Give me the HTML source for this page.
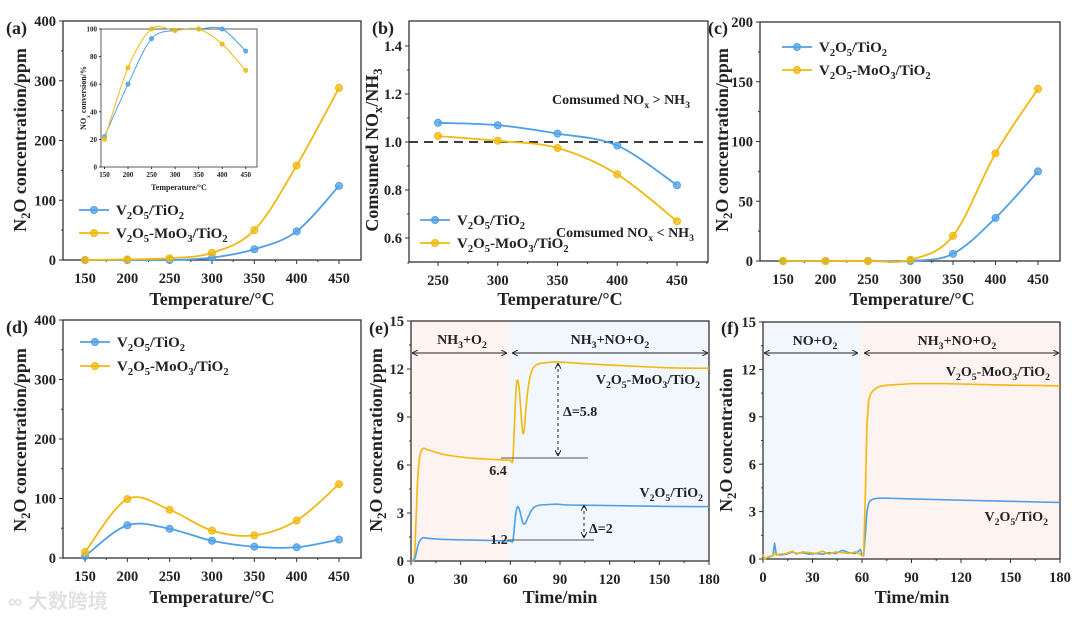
<!DOCTYPE html>
<html><head><meta charset="utf-8">
<style>
html,body{margin:0;padding:0;background:#fff;}
svg{display:block;font-family:"Liberation Serif",serif;font-weight:bold;}
</style></head>
<body>
<svg id="fig" width="1080" height="618" viewBox="0 0 1080 618" xmlns="http://www.w3.org/2000/svg">
<defs>
<marker id="arrL" viewBox="0 0 8 8" refX="0" refY="4" markerWidth="6" markerHeight="6" orient="auto"><path d="M8,0 L0,4 L8,8" fill="none" stroke="#222" stroke-width="1.3"/></marker>
<marker id="arrR" viewBox="0 0 8 8" refX="8" refY="4" markerWidth="6" markerHeight="6" orient="auto"><path d="M0,0 L8,4 L0,8" fill="none" stroke="#222" stroke-width="1.3"/></marker>
</defs>
</svg>
<script>
// ---------- data ----------
const tempsA = [150,200,250,300,350,400,450];
const aV = [0,0,0,4,18,48,124];
const aMo = [0,1,3,12,50,158,288];
const insetV = [22,60,93,99,100,100,84];
const insetMo = [20,72,100,99,100,89,70];
const tempsB = [250,300,350,400,450];
const bV = [1.08,1.07,1.035,0.985,0.82];
const bMo = [1.025,1.005,0.975,0.865,0.67];
const cV = [0,0,0,0,6,36,75];
const cMo = [0,0,0,1,21,90,144];
const dV = [3,55,49,29,19,18,31];
const dMo = [10,99,81,46,38,63,124];
const eTime = [0,2,3,4,5,6,7,8,10,15,20,30,40,50,58,60,61.5,62.5,63.5,64.5,65.5,66.5,67.5,68.5,69.5,71,73,75,78,82,88,95,110,130,150,170,180];
const eMo = [0,0.2,2.5,5,6.3,6.85,7.0,7.05,6.95,6.8,6.65,6.5,6.4,6.35,6.3,6.3,6.3,8.5,10.8,11.3,10.6,9.2,8.0,8.3,9.6,11.0,11.9,12.2,12.35,12.4,12.45,12.4,12.3,12.2,12.1,12.05,12.05];
const eV = [0,0.1,0.4,0.9,1.2,1.35,1.45,1.45,1.42,1.38,1.35,1.32,1.3,1.28,1.25,1.25,1.25,2.2,3.1,3.4,3.2,2.8,2.4,2.3,2.45,2.8,3.2,3.4,3.5,3.52,3.55,3.5,3.48,3.45,3.42,3.4,3.4];
const fTime = [0,1,3,6,7,8,10,14,18,20,24,28,32,36,40,44,48,52,56,59,60,61,62,63,64,65,67,70,75,90,110,130,150,170,180];
const fMo = [0.3,0,0.15,0.2,0.4,0.25,0.3,0.35,0.5,0.3,0.45,0.4,0.35,0.5,0.3,0.45,0.4,0.35,0.45,0.3,0.2,0.3,4,8.5,10,10.4,10.7,10.9,11.0,11.1,11.1,11.05,11.0,10.98,10.95];
const fV = [0,0,0.1,0.2,1.0,0.3,0.25,0.3,0.45,0.35,0.4,0.3,0.35,0.3,0.4,0.35,0.55,0.4,0.35,0.6,0.3,0.2,1.5,3.0,3.5,3.7,3.8,3.85,3.85,3.8,3.75,3.7,3.65,3.6,3.58];

const NS = "http://www.w3.org/2000/svg";
const svg = document.getElementById('fig');
const BLUE = "#4d9fe8", YEL = "#f2b80d";
function el(tag, attrs, parent){ const e=document.createElementNS(NS,tag); for(const k in attrs) e.setAttribute(k,attrs[k]); (parent||svg).appendChild(e); return e; }
function lin(d0,p0,d1,p1){ return v => p0 + (v-d0)*(p1-p0)/(d1-d0); }
function spline(pts){
  let d = "M"+pts[0][0]+","+pts[0][1];
  for(let i=0;i<pts.length-1;i++){
    const p0=pts[Math.max(0,i-1)], p1=pts[i], p2=pts[i+1], p3=pts[Math.min(pts.length-1,i+2)];
    const c1x=p1[0]+(p2[0]-p0[0])/6, c1y=p1[1]+(p2[1]-p0[1])/6;
    const c2x=p2[0]-(p3[0]-p1[0])/6, c2y=p2[1]-(p3[1]-p1[1])/6;
    d += " C"+c1x+","+c1y+" "+c2x+","+c2y+" "+p2[0]+","+p2[1];
  }
  return d;
}
function text(str, x, y, size, anchor, parent, name){
  const t = el('text',{x:x,y:y,'font-size':size,'text-anchor':anchor||'start',fill:'#222'},parent);
  t.innerHTML = str;
  
  
  return t;
}
function frame(p){
  const g = el('g',{});
  
  
  p.g = g;
  if(p.bg){ p.bg.forEach(b=>{ const r=el('rect',{x:b[0],y:p.y0,width:b[1]-b[0],height:p.y1-p.y0,fill:b[2]},g);
    
     }); }
  const fr = el('rect',{x:p.x0,y:p.y0,width:p.x1-p.x0,height:p.y1-p.y0,fill:'none',stroke:'#333','stroke-width':p.sw||1.3},g);
  
  
  const fs = p.tfs||14.5;
  p.xt.forEach((v,i)=>{ const x=p.sx(v);
    el('line',{x1:x,y1:p.y1,x2:x,y2:p.y1+(p.tl||4),stroke:'#333','stroke-width':1},g);
    text(String(v), x, p.y1+(p.xlo||23), fs, 'middle', g, 'x-tick-label');
    if(i<p.xt.length-1 && p.minor){ const xm=p.sx((v+p.xt[i+1])/2); el('line',{x1:xm,y1:p.y1,x2:xm,y2:p.y1+2,stroke:'#333','stroke-width':1},g); }
  });
  if(p.xminorEdge){ p.xminorEdge.forEach(v=>{ const xm=p.sx(v); el('line',{x1:xm,y1:p.y1,x2:xm,y2:p.y1+2,stroke:'#333','stroke-width':1},g); }); }
  p.yt.forEach((v,i)=>{ const y=p.sy(v);
    el('line',{x1:p.x0-(p.tl||4),y1:y,x2:p.x0,y2:y,stroke:'#333','stroke-width':1},g);
    text(p.yfmt?p.yfmt(v):String(v), p.x0-(p.ylo||7), y+fs*0.35, fs, 'end', g, 'y-tick-label');
    if(i<p.yt.length-1 && p.minor){ const ym=p.sy((v+p.yt[i+1])/2); el('line',{x1:p.x0-2,y1:ym,x2:p.x0,y2:ym,stroke:'#333','stroke-width':1},g); }
  });
  return g;
}
function series(p, xs, ys, color, name, markers, smooth){
  const pts = xs.map((x,i)=>[p.sx(x), p.sy(ys[i])]);
  const path = el('path',{d: smooth? spline(pts) : "M"+pts.map(q=>q.join(",")).join(" L"), fill:'none', stroke:color, 'stroke-width':p.lw||1.8, 'stroke-linejoin':'round'}, p.g);
  
  
  if(markers){ pts.forEach(q=>{ const c=el('circle',{cx:q[0],cy:q[1],r:p.mr||3.5,fill:color,'fill-opacity':0.75,stroke:color,'stroke-width':1},p.g);
    
     }); }
}
function legend(p, x, y1, y2, fs){
  [[y1,BLUE,'V<tspan font-size="'+(fs*0.7)+'" dy="4">2</tspan><tspan dy="-4">O</tspan><tspan font-size="'+(fs*0.7)+'" dy="4">5</tspan><tspan dy="-4">/TiO</tspan><tspan font-size="'+(fs*0.7)+'" dy="4">2</tspan>','legend-v2o5-tio2'],
   [y2,YEL,'V<tspan font-size="'+(fs*0.7)+'" dy="4">2</tspan><tspan dy="-4">O</tspan><tspan font-size="'+(fs*0.7)+'" dy="4">5</tspan><tspan dy="-4">-MoO</tspan><tspan font-size="'+(fs*0.7)+'" dy="4">3</tspan><tspan dy="-4">/TiO</tspan><tspan font-size="'+(fs*0.7)+'" dy="4">2</tspan>','legend-v2o5-moo3-tio2']].forEach(r=>{
    const g = el('g',{},p.g);
    
    
    el('line',{x1:x,y1:r[0],x2:x+30,y2:r[0],stroke:r[1],'stroke-width':1.8},g);
    el('circle',{cx:x+15,cy:r[0],r:3.5,fill:r[1],'fill-opacity':0.75,stroke:r[1]},g);
    text(r[2], x+37, r[0]+5, fs, 'start', g, 'legend-text');
  });
}
const SUB = (s)=>'<tspan font-size="70%" dy="4">'+s+'</tspan><tspan dy="-4">\u200b</tspan>';
function ytitle(str,x,y,fs,name){ const t=text(str,0,0,fs||18,'middle',svg,name||'y-axis-title'); t.setAttribute('transform','translate('+x+','+y+') rotate(-90)'); return t; }
const N2O = 'N'+SUB('2')+'O concentration/ppm';
const TEMP = 'Temperature/\u00b0C';

// ---------- panel a ----------
const pa = {name:'panel-a',x0:63,x1:361,y0:21,y1:260,sx:lin(150,85,450,339),sy:lin(0,260,400,21),xt:tempsA,yt:[0,100,200,300,400],minor:true};
frame(pa); series(pa,tempsA,aV,BLUE,'a-v2o5',true,true); series(pa,tempsA,aMo,YEL,'a-moo3',true,true);
legend(pa,79,210,233,15);
text('(a)',6,34,18,'start',svg,'panel-label-a');
ytitle(N2O,26,140); text(TEMP,212,305,18,'middle',svg,'x-axis-title-a');
const pi = {name:'panel-a-inset',x0:101,x1:257,y0:29,y1:167,sx:lin(150,104.5,450,245.7),sy:lin(0,167,100,29),xt:tempsA,yt:[0,20,40,60,80,100],tfs:7,xlo:10,ylo:4,tl:2,lw:1,mr:2,sw:0.8};
frame(pi); series(pi,tempsA,insetV,BLUE,'inset-v2o5',true,true); series(pi,tempsA,insetMo,YEL,'inset-moo3',true,true);
text(TEMP,179,190,8,'middle',svg,'inset-x-title');
ytitle('NO'+SUB('x')+' conversion/%',86,98,8,'inset-y-title');

// ---------- panel b ----------
const pb = {name:'panel-b',x0:409,x1:708,y0:21,y1:262,sx:lin(250,438,450,677),sy:lin(0.6,238,1.4,46),xt:tempsB,yt:[0.6,0.8,1.0,1.2,1.4],minor:true,yfmt:v=>v.toFixed(1),xminorEdge:[225,475]};
frame(pb);
const dl=el('line',{x1:409,y1:pb.sy(1.0),x2:708,y2:pb.sy(1.0),stroke:'#222','stroke-width':1.8,'stroke-dasharray':'9,6'},pb.g);


series(pb,tempsB,bV,BLUE,'b-v2o5',true,true); series(pb,tempsB,bMo,YEL,'b-moo3',true,true);
legend(pb,420,220,243,15);
text('Comsumed NO'+SUB('x')+' &gt; NH'+SUB('3'),621,104,14,'middle',svg,'annotation-greater');
text('Comsumed NO'+SUB('x')+' &lt; NH'+SUB('3'),625,237,14,'middle',svg,'annotation-less');
text('(b)',372,34,18,'start',svg,'panel-label-b');
ytitle('Comsumed NO'+SUB('x')+'/NH'+SUB('3'),378,150); text(TEMP,560,305,18,'middle',svg,'x-axis-title-b');

// ---------- panel c ----------
const pc = {name:'panel-c',x0:760,x1:1060,y0:22,y1:261,sx:lin(150,783,450,1038),sy:lin(0,261,200,22),xt:tempsA,yt:[0,50,100,150,200],minor:true};
frame(pc); series(pc,tempsA,cV,BLUE,'c-v2o5',true,true); series(pc,tempsA,cMo,YEL,'c-moo3',true,true);
legend(pc,782,47,70,15);
text('(c)',708,34,18,'start',svg,'panel-label-c');
ytitle(N2O,728,140); text(TEMP,912,305,18,'middle',svg,'x-axis-title-c');

// ---------- panel d ----------
const pd = {name:'panel-d',x0:63,x1:361,y0:320,y1:558,sx:lin(150,85,450,339),sy:lin(0,558,400,320),xt:tempsA,yt:[0,100,200,300,400],minor:true};
frame(pd); series(pd,tempsA,dV,BLUE,'d-v2o5',true,true); series(pd,tempsA,dMo,YEL,'d-moo3',true,true);
legend(pd,80,342,366,15);
text('(d)',6,333,18,'start',svg,'panel-label-d');
ytitle(N2O,26,440); text(TEMP,212,603,18,'middle',svg,'x-axis-title-d');
const wm=text('\u221e 大数跨境',8,608,20,'start',svg,'watermark');
wm.setAttribute('fill','#e2e2e2'); wm.setAttribute('font-family','"Liberation Sans","Noto Sans CJK SC",sans-serif');

// ---------- panel e ----------
const pe = {name:'panel-e',x0:411,x1:709,y0:321,y1:561,sx:lin(0,411,180,709),sy:lin(0,561,15,321),xt:[0,30,60,90,120,150,180],yt:[0,3,6,9,12,15],minor:true,lw:1.6,bg:[[411,510,'#fdf3f1'],[510,709,'#f1f7fd']]};
frame(pe);
series(pe,eTime,eMo,YEL,'e-moo3',false,true); series(pe,eTime,eV,BLUE,'e-v2o5',false,true);
function arrowLine(x1,y1,x2,y2,dash,name){ const l=el('line',{x1:x1,y1:y1,x2:x2,y2:y2,stroke:'#222','stroke-width':1,'marker-start':'url(#arrL)','marker-end':'url(#arrR)'}); if(dash) l.setAttribute('stroke-dasharray','3,3');
  
   }
arrowLine(412,353,507,353,false,'phase-arrow-1'); arrowLine(512,353,708,353,false,'phase-arrow-2');
text('NH'+SUB('3')+'+O'+SUB('2'),462,344,14,'middle',svg,'phase-label-nh3-o2');
text('NH'+SUB('3')+'+NO+O'+SUB('2'),610,344,14,'middle',svg,'phase-label-nh3-no-o2');
function hline(x1,x2,y,name){ const l=el('line',{x1:x1,y1:y,x2:x2,y2:y,stroke:'#555','stroke-width':1});
  
   }
hline(501,588,458,'baseline-6-4'); hline(507,594,540,'baseline-1-2');
arrowLine(558,363,558,456,true,'delta-arrow-5-8'); arrowLine(584,505,584,538,true,'delta-arrow-2');
text('\u0394=5.8',563,416,14,'start',svg,'delta-5-8');
text('\u0394=2',589,533,14,'start',svg,'delta-2');
text('6.4',498,475,14,'middle',svg,'value-6-4');
text('1.2',499,544,14,'middle',svg,'value-1-2');
text('V'+SUB('2')+'O'+SUB('5')+'-MoO'+SUB('3')+'/TiO'+SUB('2'),700,384,14,'end',svg,'e-label-moo3');
text('V'+SUB('2')+'O'+SUB('5')+'/TiO'+SUB('2'),703,497,14,'end',svg,'e-label-v2o5');
text('(e)',369,334,18,'start',svg,'panel-label-e');
ytitle(N2O,382,440); text('Time/min',560,603,18,'middle',svg,'x-axis-title-e');

// ---------- panel f ----------
const pf = {name:'panel-f',x0:763,x1:1060,y0:322,y1:559,sx:lin(0,763,180,1060),sy:lin(0,559,15,322),xt:[0,30,60,90,120,150,180],yt:[0,3,6,9,12,15],minor:true,lw:1.6,bg:[[763,861,'#f1f7fd'],[861,1060,'#fdf3f1']]};
frame(pf);
series(pf,fTime,fV,BLUE,'f-v2o5',false,false); series(pf,fTime,fMo,YEL,'f-moo3',false,false);
arrowLine(764,353,858,353,false,'phase-arrow-3'); arrowLine(864,353,1059,353,false,'phase-arrow-4');
text('NO+O'+SUB('2'),815,345,14,'middle',svg,'phase-label-no-o2');
text('NH'+SUB('3')+'+NO+O'+SUB('2'),957,345,14,'middle',svg,'phase-label-nh3-no-o2-f');
text('V'+SUB('2')+'O'+SUB('5')+'-MoO'+SUB('3')+'/TiO'+SUB('2'),1050,376,14,'end',svg,'f-label-moo3');
text('V'+SUB('2')+'O'+SUB('5')+'/TiO'+SUB('2'),1048,521,14,'end',svg,'f-label-v2o5');
text('(f)',721,334,18,'start',svg,'panel-label-f');
ytitle('N'+SUB('2')+'O concentration',732,440); text('Time/min',912,603,18,'middle',svg,'x-axis-title-f');
</script>
</body></html>
